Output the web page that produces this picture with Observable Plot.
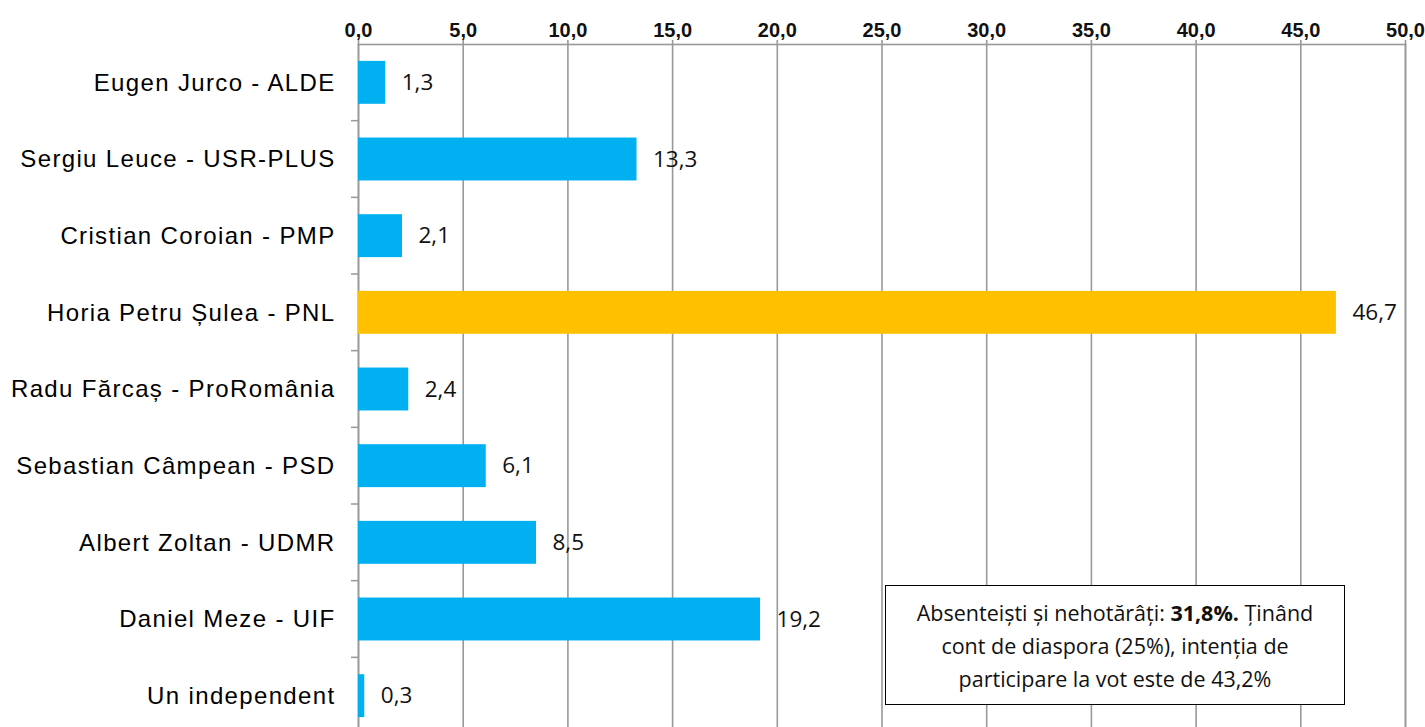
<!DOCTYPE html>
<html>
<head>
<meta charset="utf-8">
<script src="https://cdn.jsdelivr.net/npm/d3@7"></script>
<script src="https://cdn.jsdelivr.net/npm/@observablehq/plot@0.6"></script>
<style>
  html, body { margin: 0; padding: 0; background: #fff; overflow: hidden; }
  #wrap { position: relative; width: 1425px; height: 727px; overflow: hidden; }
  #note {
    position: absolute; left: 885px; top: 585px; width: 458px; height: 118px;
    border: 1.5px solid #000; background: #fff; box-sizing: content-box;
    font-family: "Open Sans", sans-serif; font-size: 21.5px; line-height: 33px;
    text-align: center; color: #111; display: flex; align-items: center; justify-content: center;
  }
  .ylab text { letter-spacing: 1.35px; }
</style>
</head>
<body>
<div id="wrap"><div id="chart"></div>
<div id="note"><div>Absenteiști și nehotărâți: <b>31,8%.</b> Ținând<br>cont de diaspora (25%), intenția de<br>participare la vot este de 43,2%</div></div>
</div>
<script>
const candidates = [
  "Eugen Jurco - ALDE",
  "Sergiu Leuce - USR-PLUS",
  "Cristian Coroian - PMP",
  "Horia Petru Șulea - PNL",
  "Radu Fărcaș - ProRomânia",
  "Sebastian Câmpean - PSD",
  "Albert Zoltan - UDMR",
  "Daniel Meze - UIF",
  "Un independent"
];
const values = [1.3, 13.3, 2.1, 46.7, 2.4, 6.1, 8.5, 19.2, 0.3];
const highlighted = ["Horia Petru Șulea - PNL"];
const xTicks = [0, 5, 10, 15, 20, 25, 30, 35, 40, 45, 50];

const data = candidates.map((name, i) => ({name, value: values[i]}));
const fmt = v => v.toFixed(1).replace(".", ",");
const gray = "#999999";

// tick marks on the left axis at band boundaries, derived from the band scale
function bandBoundaryTicks(index, scales, values, dimensions) {
  const y = scales.y;
  const bw = y.bandwidth ? y.bandwidth() : 0;
  const step = y.step ? y.step() : (y(candidates[1]) - y(candidates[0]));
  const x0 = dimensions.marginLeft;
  const g = d3.create("svg:g");
  candidates.slice(1).forEach(name => {
    const yy = y(name) + bw / 2 - step / 2;
    g.append("line").attr("x1", x0 - 7).attr("x2", x0).attr("y1", yy).attr("y2", yy)
      .attr("stroke", gray).attr("stroke-width", 1.5);
  });
  return g.node();
}

const chart = Plot.plot({
  width: 1425,
  height: 734,
  marginLeft: 358,
  marginRight: 20,
  marginTop: 44,
  marginBottom: 0,
  x: {domain: [0, 50]},
  y: {domain: candidates, paddingInner: 0.44, paddingOuter: 0.22, align: 0.5, round: false},
  style: {background: "transparent", overflow: "visible"},
  marks: [
    Plot.gridX(xTicks, {stroke: gray, strokeOpacity: 1, strokeWidth: 1.6}),
    Plot.frame({stroke: gray, strokeWidth: 1.6}),
    Plot.axisX({
      anchor: "top", ticks: xTicks, tickFormat: fmt, tickSize: 5, tickPadding: 3,
      stroke: gray, strokeWidth: 1.6,
      fontSize: 20, fontWeight: "bold", fontFamily: "Liberation Sans, Arial, sans-serif",
      fill: "#111", label: null
    }),
    Plot.axisY({
      anchor: "left", tickSize: 0, tickPadding: 23, fontSize: 24,
      fontFamily: "Liberation Sans, Arial, sans-serif", fill: "#000", label: null,
      className: "ylab"
    }),
    bandBoundaryTicks,
    Plot.barX(data, {
      x: "value", y: "name",
      fill: d => highlighted.includes(d.name) ? "#FFC000" : "#00B0F0"
    }),
    Plot.text(data, {
      x: "value", y: "name", text: d => fmt(d.value), textAnchor: "start", dx: 16,
      fontSize: 22.5, fontFamily: "Open Sans, sans-serif", fill: "#111"
    })
  ]
});
document.getElementById("chart").appendChild(chart);
</script>
</body>
</html>
